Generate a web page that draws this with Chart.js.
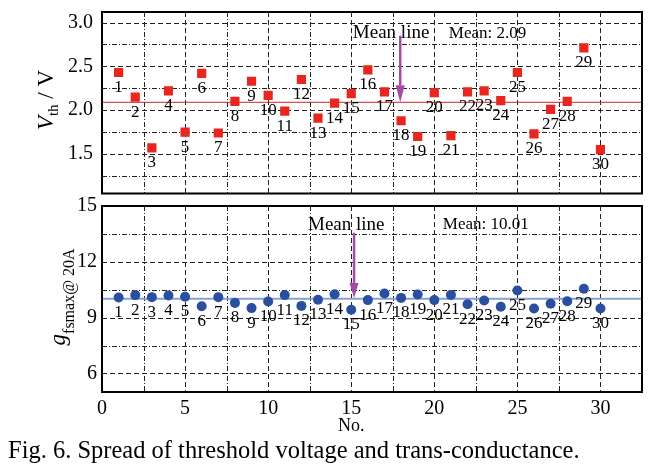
<!DOCTYPE html>
<html>
<head>
<meta charset="utf-8">
<script src="https://cdn.jsdelivr.net/npm/chart.js@4.4.0/dist/chart.umd.min.js"></script>
<style>
  body { margin: 0; background: #fff; width: 663px; height: 474px; position: relative; overflow: hidden; }
  #c1 { position: absolute; left: 0; top: 0; }
  #c2 { position: absolute; left: 0; top: 185px; }
  #cap { position: absolute; left: 8px; top: 436px; font: 24.5px "Liberation Serif", serif; white-space: nowrap; color: #000; }
</style>
</head>
<body>
<canvas id="c1" width="663" height="200"></canvas>
<canvas id="c2" width="663" height="255"></canvas>
<div id="cap">Fig. 6. Spread of threshold voltage and trans-conductance.</div>
<script>
var sampleNo = [1, 2, 3, 4, 5, 6, 7, 8, 9, 10, 11, 12, 13, 14, 15, 16, 17, 18, 19, 20, 21, 22, 23, 24, 25, 26, 27, 28, 29, 30];
var vth = [2.43, 2.15, 1.57, 2.22, 1.75, 2.42, 1.74, 2.10, 2.33, 2.17, 1.99, 2.35, 1.91, 2.08, 2.19,
           2.46, 2.21, 1.88, 1.70, 2.20, 1.71, 2.21, 2.22, 2.11, 2.43, 1.73, 2.01, 2.10, 2.71, 1.55];
var gfs = [10.08, 10.21, 10.10, 10.19, 10.12, 9.61, 10.10, 9.79, 9.51, 9.87, 10.21, 9.63, 9.96, 10.26, 9.42,
           9.94, 10.30, 10.06, 10.24, 9.94, 10.22, 9.72, 9.92, 9.58, 10.46, 9.49, 9.74, 9.88, 10.55, 9.49];
var vthMean = 2.09;
var gfsMean = 10.01;

var xRange = [0, 32.5];
var vthRange = [1.05, 3.12];
var gfsRange = [5, 15];

// tick / grid positions; labelled ones are the multiples of the major step
var xTicks = [0, 2.5, 5, 7.5, 10, 12.5, 15, 17.5, 20, 22.5, 25, 27.5, 30];
var vthTicks = [1.25, 1.5, 1.75, 2.0, 2.25, 2.5, 2.75, 3.0];
var gfsTicks = [6, 7.5, 9, 10.5, 12, 13.5, 15];

var FONT = '"Liberation Serif", "Times New Roman", serif';

function isMultiple(v, step) {
  var r = v / step;
  return Math.abs(r - Math.round(r)) < 1e-6;
}

function fixedTicks(list) {
  return function(s) { s.ticks = list.map(function(v) { return { value: v }; }); };
}

function noPad(s) {
  s.paddingTop = 0; s.paddingBottom = 0; s.paddingLeft = 0; s.paddingRight = 0;
}

// dashed grid: major lines dashed, minor lines dash-dot, plus a heavy frame
var paperGrid = {
  id: 'paperGrid',
  beforeDatasetsDraw: function(chart, args, o) {
    var ctx = chart.ctx, a = chart.chartArea, xs = chart.scales.x, ys = chart.scales.y;
    ctx.save();
    ctx.strokeStyle = '#222';
    ctx.lineWidth = 1;
    xs.ticks.forEach(function(t) {
      if (t.value <= xs.min + 1e-6 || t.value >= xs.max - 1e-6) return;
      var px = Math.round(xs.getPixelForValue(t.value)) + 0.5;
      ctx.setLineDash(isMultiple(t.value, o.xMajor) ? [5, 3] : [5, 2, 1, 2]);
      ctx.beginPath(); ctx.moveTo(px, a.top); ctx.lineTo(px, a.bottom); ctx.stroke();
    });
    ys.ticks.forEach(function(t) {
      if (t.value <= ys.min + 1e-6 || t.value >= ys.max - 1e-6) return;
      var py = Math.round(ys.getPixelForValue(t.value)) + 0.5;
      ctx.setLineDash(isMultiple(t.value, o.yMajor) ? [5, 3] : [5, 2, 1, 2]);
      ctx.beginPath(); ctx.moveTo(a.left, py); ctx.lineTo(a.right, py); ctx.stroke();
    });
    ctx.restore();
  },
  afterDraw: function(chart) {
    var ctx = chart.ctx, a = chart.chartArea;
    ctx.save();
    ctx.strokeStyle = '#000';
    ctx.lineWidth = 2;
    ctx.strokeRect(a.left, a.top, a.right - a.left, a.bottom - a.top);
    ctx.restore();
  }
};

// point numbers, "Mean line" arrow, mean text and the y title with subscript
var notes = {
  id: 'notes',
  afterDatasetsDraw: function(chart, args, o) {
    var ctx = chart.ctx, xs = chart.scales.x, ys = chart.scales.y, a = chart.chartArea;
    ctx.save();
    ctx.fillStyle = '#000';
    ctx.textAlign = 'center';
    ctx.textBaseline = 'middle';
    ctx.font = '17px ' + FONT;
    chart.getDatasetMeta(0).data.forEach(function(p, i) {
      ctx.fillText(String(sampleNo[i]), p.x, p.y + 15);
    });

    o.texts.forEach(function(t) {
      ctx.font = t.size + 'px ' + FONT;
      ctx.fillText(t.text, xs.getPixelForValue(t.x), ys.getPixelForValue(t.y));
    });

    if (o.xTitle) {
      ctx.font = '18px ' + FONT;
      ctx.fillText(o.xTitle.text, xs.getPixelForValue(o.xTitle.x), a.bottom + o.xTitle.dy);
    }

    var ar = o.arrow;
    var ax = xs.getPixelForValue(ar.x), y0 = ys.getPixelForValue(ar.from), y1 = ys.getPixelForValue(ar.to);
    ctx.strokeStyle = '#a44ba3';
    ctx.fillStyle = '#a44ba3';
    ctx.lineWidth = 2.5;
    ctx.beginPath(); ctx.moveTo(ax, y0); ctx.lineTo(ax, y1 - ar.head); ctx.stroke();
    ctx.beginPath();
    ctx.moveTo(ax - 4.5, y1 - ar.head); ctx.lineTo(ax + 4.5, y1 - ar.head); ctx.lineTo(ax, y1);
    ctx.closePath(); ctx.fill();

    var ti = o.title;
    ctx.translate(ti.x, ti.y);
    ctx.rotate(-Math.PI / 2);
    ctx.fillStyle = '#000';
    ctx.textAlign = 'left';
    ctx.textBaseline = 'alphabetic';
    var total = 0;
    ti.parts.forEach(function(p) { ctx.font = p.font + ' ' + FONT; p.w = ctx.measureText(p.t).width; total += p.w; });
    var cx = -total / 2;
    ti.parts.forEach(function(p) {
      ctx.font = p.font + ' ' + FONT;
      ctx.fillText(p.t, cx, p.dy);
      cx += p.w;
    });
    ctx.restore();
  }
};

function baseOptions(yr, yTicks, yMajor, pad, yPad) {
  return {
    responsive: false,
    animation: false,
    devicePixelRatio: 1,
    layout: { padding: pad },
    plugins: { legend: { display: false }, tooltip: { enabled: false } },
    scales: {
      x: {
        type: 'linear', min: xRange[0], max: xRange[1],
        grid: { display: false, drawTicks: false }, border: { display: false },
        afterBuildTicks: fixedTicks(xTicks),
        ticks: { autoSkip: false, maxRotation: 0 }
      },
      y: {
        min: yr[0], max: yr[1],
        grid: { display: false, drawTicks: false }, border: { display: false },
        afterBuildTicks: fixedTicks(yTicks),
        ticks: {
          autoSkip: false, color: '#000', padding: yPad,
          font: { family: FONT, size: 20 },
          callback: function(v) {
            if (!isMultiple(v, yMajor)) return '';
            return yMajor < 1 ? v.toFixed(1) : String(v);
          }
        },
        afterFit: function(s) { s.width = 102; noPad(s); }
      }
    }
  };
}

var opt1 = baseOptions(vthRange, vthTicks, 0.5, { top: 12, right: 21, bottom: 3, left: 0 }, 9);
opt1.scales.x.ticks.display = false;
opt1.scales.x.afterFit = function(s) { s.height = 0; noPad(s); };
opt1.plugins.paperGrid = { xMajor: 5, yMajor: 0.5 };
opt1.plugins.notes = {
  texts: [
    { text: 'Mean line', x: 17.4, y: 2.885, size: 19 },
    { text: 'Mean: 2.09', x: 23.2, y: 2.87, size: 17 }
  ],
  arrow: { x: 17.95, from: 2.85, to: 2.09, head: 17 },
  title: { x: 53, y: 100, parts: [
    { t: 'V', font: 'italic 23px', dy: 0 },
    { t: 'th', font: '15px', dy: 5 },
    { t: ' / V', font: '23px', dy: 0 }
  ] }
};

new Chart(document.getElementById('c1'), {
  type: 'scatter',
  data: {
    datasets: [
      { data: sampleNo.map(function(n, i) { return { x: n, y: vth[i] }; }),
        pointStyle: 'rect', pointRadius: 6.5, backgroundColor: '#e8251f', borderWidth: 0 },
      { data: [{ x: xRange[0], y: vthMean }, { x: xRange[1], y: vthMean }],
        showLine: true, pointRadius: 0, borderColor: '#cc2424', borderWidth: 1 }
    ]
  },
  options: opt1,
  plugins: [paperGrid, notes]
});

var opt2 = baseOptions(gfsRange, gfsTicks, 3, { top: 21, right: 21, bottom: 0, left: 0 }, 5);
opt2.scales.x.ticks.color = '#000';
opt2.scales.x.ticks.padding = 5;
opt2.scales.x.ticks.font = { family: FONT, size: 20 };
opt2.scales.x.ticks.callback = function(v) { return isMultiple(v, 5) ? String(v) : ''; };
opt2.scales.x.afterFit = function(s) { s.height = 48; noPad(s); };
opt2.plugins.paperGrid = { xMajor: 5, yMajor: 3 };
opt2.plugins.notes = {
  texts: [
    { text: 'Mean line', x: 14.7, y: 13.98, size: 19 },
    { text: 'Mean: 10.01', x: 23.1, y: 13.98, size: 17 }
  ],
  xTitle: { text: 'No.', x: 15, dy: 34 },
  arrow: { x: 15.17, from: 13.56, to: 10.05, head: 15 },
  title: { x: 65, y: 112, parts: [
    { t: 'g', font: 'italic 23px', dy: 0 },
    { t: 'fsmax', font: '16px', dy: 9 },
    { t: '@ 20A', font: '16px', dy: 9 }
  ] }
};

new Chart(document.getElementById('c2'), {
  type: 'scatter',
  data: {
    datasets: [
      { data: sampleNo.map(function(n, i) { return { x: n, y: gfs[i] }; }),
        pointStyle: 'circle', pointRadius: 5, backgroundColor: '#2b4f9f', borderWidth: 0 },
      { data: [{ x: xRange[0], y: gfsMean }, { x: xRange[1], y: gfsMean }],
        showLine: true, pointRadius: 0, borderColor: '#86a0d2', borderWidth: 2 }
    ]
  },
  options: opt2,
  plugins: [paperGrid, notes]
});
</script>
</body>
</html>
